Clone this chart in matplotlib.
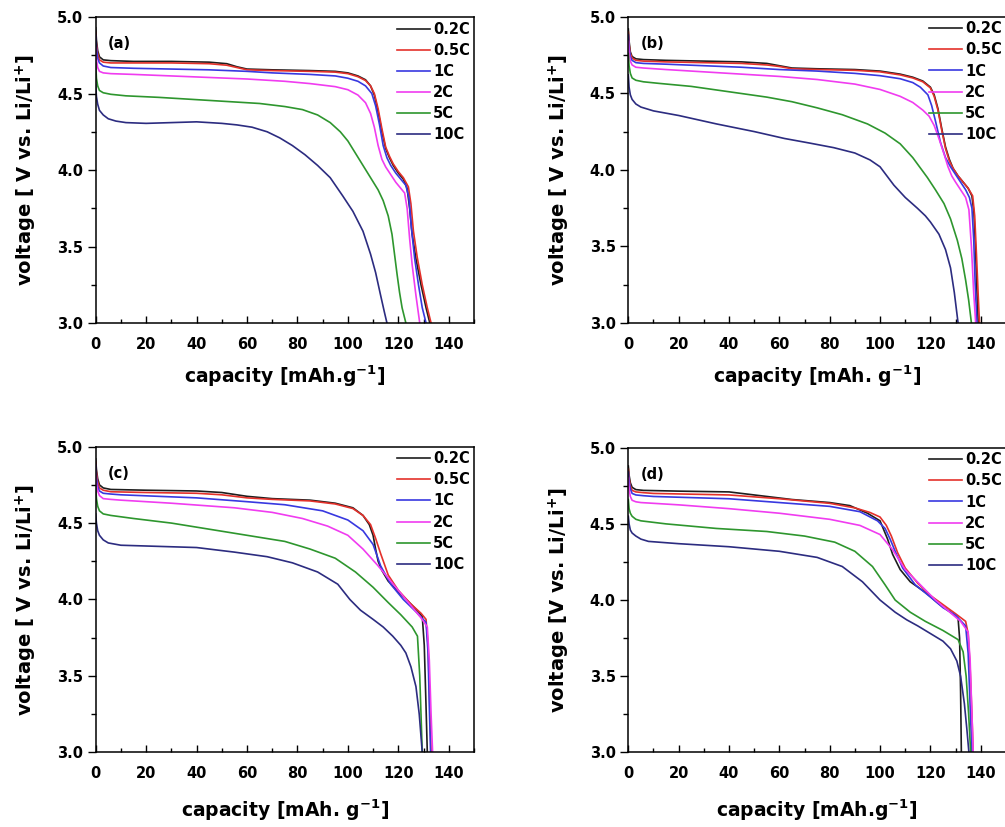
import matplotlib
matplotlib.use('Agg')
import matplotlib.pyplot as plt
from matplotlib.ticker import MultipleLocator, FormatStrFormatter

plt.rcParams['font.family'] = 'DejaVu Sans'
plt.rcParams['font.weight'] = 'bold'
plt.rcParams['mathtext.default'] = 'bf'

rates = ['0.2C', '0.5C', '1C', '2C', '5C', '10C']
colors = ['#1e1e1e', '#e4312b', '#3838e0', '#f03cf0', '#2e962e', '#2c2c80']
tags = ['(a)', '(b)', '(c)', '(d)']
ylabels = ['voltage [ V vs. Li/Li$^{+}$]', 'voltage [ V vs. Li/Li$^{+}$]',
           'voltage [ V vs. Li/Li$^{+}$]', 'voltage [V vs. Li/Li$^{+}$]']
xlabels = ['capacity [mAh.g$^{-1}$]', 'capacity [mAh. g$^{-1}$]',
           'capacity [mAh. g$^{-1}$]', 'capacity [mAh.g$^{-1}$]']

# ---- (a) ----
a_cap_02 = [0, 0.3, 0.8, 1.5, 3, 6, 15, 30, 45, 52, 56, 60, 70, 85, 95, 100, 104, 107, 109, 110.5, 112, 113.5,
            115, 116.5, 118, 120, 122, 123.5, 124.5, 125.5, 127, 129, 131, 132.5]
a_v_02 = [4.93, 4.85, 4.78, 4.74, 4.72, 4.715, 4.71, 4.71, 4.705, 4.695, 4.675, 4.66, 4.655, 4.65, 4.645, 4.635,
          4.615, 4.59, 4.55, 4.49, 4.38, 4.25, 4.14, 4.08, 4.03, 3.98, 3.94, 3.88, 3.75, 3.58, 3.42, 3.25, 3.10, 3.0]
a_cap_05 = [0, 0.3, 0.8, 1.5, 3, 6, 15, 30, 45, 52, 56, 60, 70, 85, 95, 100, 104, 107, 109, 110.5, 112, 113.5,
            115, 116.5, 118, 120, 122, 124, 125, 126, 127.5, 129.5, 131.5, 133]
a_v_05 = [4.90, 4.82, 4.76, 4.72, 4.705, 4.70, 4.70, 4.70, 4.695, 4.685, 4.67, 4.655, 4.65, 4.645, 4.64, 4.63,
          4.61, 4.585, 4.55, 4.50, 4.40, 4.27, 4.15, 4.09, 4.04, 3.99, 3.95, 3.89, 3.78, 3.6, 3.43, 3.25, 3.10, 3.0]
a_cap_1 = [0, 0.3, 0.8, 1.5, 3, 6, 15, 30, 45, 60, 70, 85, 95, 100, 104, 107, 109.5, 111, 112.5, 114, 115.5,
           117, 119, 121, 123, 124.2, 125.2, 126.5, 128, 129.5, 131]
a_v_1 = [4.88, 4.80, 4.73, 4.70, 4.68, 4.67, 4.665, 4.66, 4.655, 4.645, 4.635, 4.625, 4.615, 4.60, 4.58, 4.55,
         4.50, 4.42, 4.30, 4.16, 4.08, 4.03, 3.98, 3.94, 3.90, 3.82, 3.62, 3.42, 3.25, 3.10, 3.0]
a_cap_2 = [0, 0.3, 0.8, 1.5, 3, 6, 15, 30, 45, 60, 75, 85, 95, 100, 104, 107, 109, 110.5, 112, 113.5, 115,
           117, 119, 121, 122.5, 123.5, 124.5, 125.5, 127, 128.5]
a_v_2 = [4.80, 4.72, 4.67, 4.645, 4.635, 4.63, 4.625, 4.615, 4.605, 4.595, 4.58, 4.565, 4.545, 4.525, 4.49,
         4.44, 4.37, 4.28, 4.16, 4.07, 4.02, 3.97, 3.92, 3.88, 3.85, 3.75, 3.55, 3.38, 3.18, 3.0]
a_cap_5 = [0, 0.3, 0.8, 1.5, 3, 6, 12, 25, 40, 55, 65, 75, 82, 88, 93, 97, 100, 103, 106, 109, 112, 114, 116,
           117.5, 118.5, 119.5, 120.5, 121.5, 123]
a_v_5 = [4.70, 4.60, 4.55, 4.52, 4.505, 4.495, 4.485, 4.475, 4.46, 4.445, 4.435, 4.415, 4.395, 4.36, 4.31, 4.25,
         4.19, 4.11, 4.03, 3.95, 3.87, 3.80, 3.70, 3.58, 3.45, 3.32, 3.20, 3.10, 3.0]
a_cap_10 = [0, 0.3, 0.8, 1.5, 3, 5, 8, 12, 20, 30, 40, 50, 56, 62, 68, 73, 78, 83, 88, 93, 98, 102, 106, 109,
            111, 113, 114.5, 115.5]
a_v_10 = [4.56, 4.48, 4.43, 4.39, 4.36, 4.335, 4.32, 4.31, 4.305, 4.31, 4.315, 4.305, 4.295, 4.28, 4.25, 4.21,
          4.16, 4.10, 4.03, 3.95, 3.83, 3.73, 3.60, 3.45, 3.33, 3.18, 3.07, 3.0]

# ---- (b) ----
b_cap_02 = [0, 0.3, 0.8, 1.5, 3, 6, 15, 30, 45, 55, 60, 65, 75, 90, 100, 108, 113, 117, 120, 121.5, 123, 124.5,
            126, 127.5, 129, 131, 133, 135, 136.5, 137.3, 137.9, 138.5, 139]
b_v_02 = [4.92, 4.84, 4.77, 4.74, 4.725, 4.72, 4.715, 4.71, 4.705, 4.695, 4.68, 4.665, 4.66, 4.655, 4.645, 4.625,
          4.605, 4.58, 4.54, 4.49, 4.40, 4.27, 4.15, 4.07, 4.01, 3.96, 3.92, 3.88, 3.83, 3.72, 3.5, 3.2, 3.0]
b_cap_05 = [0, 0.3, 0.8, 1.5, 3, 6, 15, 30, 45, 55, 60, 65, 75, 90, 100, 108, 113, 117, 120, 121.5, 123, 124.5,
            126, 127.5, 129, 131, 133, 135, 136.8, 137.6, 138.3, 139, 139.5]
b_v_05 = [4.90, 4.82, 4.76, 4.73, 4.715, 4.71, 4.705, 4.70, 4.695, 4.685, 4.675, 4.66, 4.655, 4.65, 4.64, 4.62,
          4.60, 4.575, 4.535, 4.48, 4.39, 4.26, 4.14, 4.06, 4.01, 3.96, 3.92, 3.88, 3.83, 3.70, 3.45, 3.18, 3.0]
b_cap_1 = [0, 0.3, 0.8, 1.5, 3, 6, 15, 30, 45, 60, 75, 90, 100, 108, 113, 116, 119, 120.5, 122, 124, 126, 128,
           130, 132, 134, 135.5, 136.5, 137.2, 137.8, 138.5]
b_v_1 = [4.88, 4.80, 4.74, 4.715, 4.70, 4.695, 4.69, 4.68, 4.67, 4.655, 4.645, 4.63, 4.615, 4.595, 4.57, 4.54,
         4.49, 4.42, 4.32, 4.18, 4.08, 4.02, 3.97, 3.92, 3.87, 3.82, 3.75, 3.55, 3.25, 3.0]
b_cap_2 = [0, 0.3, 0.8, 1.5, 3, 6, 15, 30, 45, 60, 75, 90, 100, 108, 113, 117, 119.5, 121.5, 123.5, 125.5,
           127, 128.5, 130, 132, 134, 135.3, 136.3, 137.2, 138]
b_v_2 = [4.84, 4.76, 4.71, 4.685, 4.67, 4.665, 4.655, 4.64, 4.625, 4.61, 4.59, 4.56, 4.525, 4.48, 4.44, 4.39,
         4.35, 4.29, 4.20, 4.10, 4.02, 3.96, 3.92, 3.87, 3.82, 3.74, 3.5, 3.2, 3.0]
b_cap_5 = [0, 0.3, 0.8, 1.5, 3, 6, 12, 25, 40, 55, 65, 75, 85, 95, 102, 108, 113, 118.8, 122, 125.4, 128, 130.7,
           132.5, 134, 135.2, 136.3]
b_v_5 = [4.76, 4.68, 4.63, 4.60, 4.585, 4.575, 4.565, 4.545, 4.51, 4.475, 4.445, 4.405, 4.36, 4.30, 4.24,
         4.17, 4.08, 3.95, 3.87, 3.78, 3.68, 3.54, 3.42, 3.28, 3.15, 3.0]
b_cap_10 = [0, 0.3, 0.8, 1.5, 3, 5, 10, 20, 35, 50, 62, 72, 81.6, 90, 96, 100, 105.5, 110, 114.8, 118, 120,
            123.4, 126, 128, 129.5, 131]
b_v_10 = [4.62, 4.54, 4.49, 4.46, 4.43, 4.41, 4.385, 4.355, 4.30, 4.25, 4.205, 4.175, 4.145, 4.11, 4.065, 4.02,
          3.90, 3.82, 3.75, 3.70, 3.66, 3.58, 3.48, 3.36, 3.20, 3.0]

# ---- (c) ----
c_cap_02 = [0, 0.3, 0.8, 1.5, 3, 6, 20, 40, 50, 60, 70, 85, 95, 102, 106, 108.5, 110, 111, 112, 113.5, 116, 120,
            125, 128, 129.5, 130.3, 131, 131.5]
c_v_02 = [4.92, 4.85, 4.79, 4.75, 4.73, 4.72, 4.715, 4.71, 4.70, 4.675, 4.66, 4.65, 4.63, 4.60, 4.55, 4.49,
          4.42, 4.33, 4.25, 4.19, 4.12, 4.05, 3.97, 3.92, 3.89, 3.70, 3.30, 3.0]
c_cap_05 = [0, 0.3, 0.8, 1.5, 3, 6, 20, 40, 50, 60, 70, 85, 95, 102, 106, 109, 111, 113, 116, 120, 125, 129,
            131, 131.8, 132.5, 133]
c_v_05 = [4.90, 4.83, 4.77, 4.73, 4.715, 4.705, 4.70, 4.695, 4.685, 4.665, 4.655, 4.645, 4.625, 4.595, 4.55,
          4.49, 4.40, 4.30, 4.16, 4.06, 3.97, 3.91, 3.87, 3.70, 3.30, 3.0]
c_cap_1 = [0, 0.3, 0.8, 1.5, 3, 6, 10, 25, 40, 60, 75, 90, 100, 106, 110, 113, 117, 122, 127, 131, 131.8,
           132.3, 132.8]
c_v_1 = [4.88, 4.80, 4.74, 4.71, 4.695, 4.69, 4.685, 4.675, 4.665, 4.64, 4.62, 4.58, 4.52, 4.45, 4.36, 4.22,
         4.10, 4.00, 3.92, 3.85, 3.65, 3.30, 3.0]
c_cap_2 = [0, 0.3, 0.8, 1.5, 3, 6, 10, 30, 55, 70, 82, 92, 100, 106, 112, 118, 123, 127, 129, 131.5, 132.3,
           133, 133.6]
c_v_2 = [4.84, 4.76, 4.71, 4.68, 4.66, 4.655, 4.65, 4.63, 4.60, 4.57, 4.53, 4.48, 4.42, 4.33, 4.22, 4.10,
         4.00, 3.92, 3.88, 3.82, 3.60, 3.25, 3.0]
c_cap_5 = [0, 0.3, 0.8, 1.5, 3, 6, 15, 30, 45, 60, 75, 85, 95, 103, 110, 116, 121, 125.5, 127.6, 128.5, 129,
           129.5]
c_v_5 = [4.74, 4.66, 4.61, 4.58, 4.56, 4.55, 4.53, 4.50, 4.46, 4.42, 4.38, 4.33, 4.27, 4.18, 4.08, 3.98, 3.90,
         3.82, 3.76, 3.50, 3.25, 3.0]
c_cap_10 = [0, 0.3, 0.8, 1.5, 3, 5, 10, 20, 40, 55, 68, 78, 88, 96, 100.8, 105, 110, 114, 117.8, 121, 123,
            125, 127, 128.3, 129.5]
c_v_10 = [4.56, 4.50, 4.45, 4.42, 4.39, 4.37, 4.355, 4.35, 4.34, 4.31, 4.28, 4.24, 4.18, 4.10, 4.00, 3.93,
          3.87, 3.82, 3.76, 3.70, 3.65, 3.56, 3.43, 3.25, 3.0]

# ---- (d) ----
d_cap_02 = [0, 0.3, 0.8, 1.5, 3, 6, 20, 40, 55, 65, 80, 88, 95, 100, 103, 105, 108, 112, 118, 123, 128, 131,
            131.6, 132, 132.3]
d_v_02 = [4.88, 4.82, 4.77, 4.74, 4.725, 4.72, 4.715, 4.71, 4.68, 4.66, 4.64, 4.62, 4.57, 4.52, 4.40, 4.30,
          4.20, 4.12, 4.05, 3.98, 3.92, 3.88, 3.75, 3.40, 3.0]
d_cap_05 = [0, 0.3, 0.8, 1.5, 3, 6, 10, 40, 60, 80, 90, 96, 100, 102.5, 104.5, 107, 110, 115, 120, 125, 130,
            134, 135, 135.8, 136.5, 137]
d_v_05 = [4.86, 4.80, 4.75, 4.72, 4.71, 4.705, 4.70, 4.69, 4.665, 4.635, 4.605, 4.575, 4.545, 4.49, 4.42, 4.31,
          4.21, 4.11, 4.03, 3.97, 3.91, 3.86, 3.78, 3.55, 3.25, 3.0]
d_cap_1 = [0, 0.3, 0.8, 1.5, 3, 6, 10, 40, 60, 80, 92, 99, 102, 104, 106, 109, 114, 120, 125, 130, 134, 135,
           135.8, 136.5]
d_v_1 = [4.84, 4.78, 4.73, 4.70, 4.69, 4.685, 4.68, 4.665, 4.64, 4.615, 4.58, 4.52, 4.47, 4.40, 4.32, 4.21,
         4.10, 4.02, 3.95, 3.90, 3.83, 3.65, 3.30, 3.0]
d_cap_2 = [0, 0.3, 0.8, 1.5, 3, 5, 20, 40, 60, 80, 92, 100, 105, 110, 116, 122, 127, 132, 135, 135.8, 136.5,
           137]
d_v_2 = [4.80, 4.73, 4.68, 4.655, 4.645, 4.64, 4.625, 4.60, 4.57, 4.53, 4.49, 4.43, 4.33, 4.20, 4.10, 4.00,
         3.93, 3.86, 3.79, 3.60, 3.25, 3.0]
d_cap_5 = [0, 0.3, 0.8, 1.5, 3, 5, 15, 35, 55, 70, 82, 90, 97, 102, 106, 112, 118, 125, 131, 133, 134.2, 135.2,
           136]
d_v_5 = [4.66, 4.60, 4.57, 4.55, 4.53, 4.52, 4.50, 4.47, 4.45, 4.42, 4.38, 4.32, 4.22, 4.10, 4.00, 3.92, 3.86,
         3.80, 3.74, 3.66, 3.50, 3.25, 3.0]
d_cap_10 = [0, 0.3, 0.8, 1.5, 3, 5, 8, 20, 40, 60, 75, 85, 93, 100, 106, 110.6, 115, 120, 125, 128, 130.5, 132,
            133.5, 134.5, 135.3]
d_v_10 = [4.55, 4.50, 4.46, 4.44, 4.42, 4.40, 4.385, 4.37, 4.35, 4.32, 4.28, 4.22, 4.12, 4.00, 3.92, 3.87, 3.83,
          3.78, 3.73, 3.68, 3.60, 3.50, 3.32, 3.15, 3.0]

panels = [
    [(a_cap_02, a_v_02), (a_cap_05, a_v_05), (a_cap_1, a_v_1), (a_cap_2, a_v_2), (a_cap_5, a_v_5), (a_cap_10, a_v_10)],
    [(b_cap_02, b_v_02), (b_cap_05, b_v_05), (b_cap_1, b_v_1), (b_cap_2, b_v_2), (b_cap_5, b_v_5), (b_cap_10, b_v_10)],
    [(c_cap_02, c_v_02), (c_cap_05, c_v_05), (c_cap_1, c_v_1), (c_cap_2, c_v_2), (c_cap_5, c_v_5), (c_cap_10, c_v_10)],
    [(d_cap_02, d_v_02), (d_cap_05, d_v_05), (d_cap_1, d_v_1), (d_cap_2, d_v_2), (d_cap_5, d_v_5), (d_cap_10, d_v_10)],
]

# axes boxes in figure fractions [left, bottom, width, height]
boxes = [[0.0952, 0.6094, 0.3764, 0.3700],
         [0.6252, 0.6094, 0.3757, 0.3704],
         [0.0952, 0.0903, 0.3764, 0.3696],
         [0.6252, 0.0903, 0.3757, 0.3683]]

fig = plt.figure(figsize=(10.05, 8.27), dpi=100)

for i in range(4):
    ax = fig.add_axes(boxes[i])
    for (cap, volt), lab, col in zip(panels[i], rates, colors):
        ax.plot(cap, volt, color=col, lw=1.2, label=lab)
    ax.set_xlim(0, 150)
    ax.set_ylim(3.0, 5.0)
    ax.xaxis.set_major_locator(MultipleLocator(20))
    ax.xaxis.set_minor_locator(MultipleLocator(10))
    ax.yaxis.set_major_locator(MultipleLocator(0.5))
    ax.yaxis.set_minor_locator(MultipleLocator(0.25))
    ax.yaxis.set_major_formatter(FormatStrFormatter('%.1f'))
    ax.tick_params(axis='y', which='major', direction='out', length=6, width=1, labelsize=10.5, pad=3)
    ax.tick_params(axis='y', which='minor', direction='out', length=3.5, width=1)
    ax.tick_params(axis='x', which='major', direction='in', length=5, width=1, labelsize=10.5, pad=10)
    ax.tick_params(axis='x', which='minor', direction='in', length=3, width=1)
    for sp in ax.spines.values():
        sp.set_linewidth(1.1)
    ax.set_ylabel(ylabels[i], fontsize=14, fontweight='bold', labelpad=13)
    ax.set_xlabel(xlabels[i], fontsize=13.5, fontweight='bold', labelpad=8 if i < 2 else 12)
    ax.text(0.033, 0.912, tags[i], transform=ax.transAxes, fontsize=10.5, fontweight='bold', va='center')
    ax.legend(loc='upper right', bbox_to_anchor=(0.99, 0.985), frameon=False,
              fontsize=10.5, handlelength=2.3, handletextpad=0.2, labelspacing=0.42, borderpad=0,
              borderaxespad=0)

fig.savefig('out.png', dpi=100)
